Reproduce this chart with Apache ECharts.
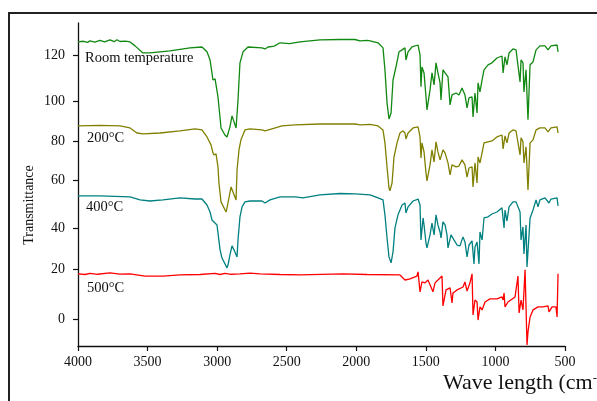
<!DOCTYPE html>
<html>
<head>
<meta charset="utf-8">
<script src="https://cdn.jsdelivr.net/npm/echarts@6/dist/echarts.min.js"></script>
<style>
html,body{margin:0;padding:0;background:#fff;}
#chart{width:597px;height:401px;}
</style>
</head>
<body>
<div id="chart"></div>
<script>
// ---- data: [wavenumber (cm-1), transmittance] ----
const roomTemp = [
[4000,125.9],[3960,126.2],[3930,125.7],[3914,126.4],[3880,125.8],[3842,126.6],[3810,125.9],[3770,126.8],[3740,126.0],[3720,126.9],[3698,126.1],[3660,126.3],[3626,125.9],[3590,124.1],[3533,120.9],[3483,120.9],[3339,121.8],[3195,123.2],[3109,123.6],[3073,121.4],[3051,117.7],[3030,108.6],[3015,109.1],[2994,100.9],[2972,86.8],[2944,83.6],[2929,82.7],[2908,87.3],[2893,92.3],[2864,86.8],[2850,99.5],[2836,116.4],[2814,121.4],[2778,123.6],[2678,123.2],[2656,122.7],[2634,123.6],[2590,124.0],[2548,125.5],[2480,125.1],[2404,125.9],[2261,126.8],[2117,127.0],[2009,127.0],[1973,126.4],[1923,126.6],[1901,126.4],[1844,125.5],[1808,123.2],[1794,113.2],[1779,98.2],[1765,90.9],[1750,93.6],[1736,108.6],[1715,114.5],[1693,121.4],[1671,122.3],[1650,123.2],[1643,117.7],[1628,121.4],[1600,123.6],[1556,124.5],[1542,120],[1535,105.5],[1528,114.5],[1513,111.8],[1499,100.9],[1492,95],[1470,104.1],[1456,111.8],[1441,106.4],[1427,116.4],[1413,111.8],[1398,107.3],[1391,99.5],[1377,113.2],[1362,111.8],[1341,110],[1326,97.3],[1312,101.8],[1283,102.7],[1262,101.8],[1240,105.0],[1219,101.8],[1204,95.9],[1190,100.5],[1168,100.9],[1161,91.8],[1147,102.7],[1132,93.6],[1125,107.3],[1111,103.2],[1096,108.6],[1082,113.2],[1053,115.5],[1025,116.4],[989,118.6],[953,119.5],[945,111.8],[931,119.1],[917,115.5],[902,120.9],[874,122.7],[852,122.3],[838,121.4],[823,107.7],[816,117.7],[802,116.4],[795,103.2],[780,113.2],[766,90.5],[751,115.5],[730,116.8],[708,122.3],[680,124.1],[644,124.1],[622,122.3],[601,124.1],[557,124.5],[550,121.4]
];
const t200 = [
[4000,87.7],[3842,88.0],[3698,87.7],[3626,86.8],[3576,84.5],[3533,84.1],[3411,84.5],[3267,85.5],[3159,86.4],[3109,85.9],[3073,82.7],[3044,79.1],[3030,75.5],[3023,74.5],[3008,75],[2994,69.1],[2987,61.8],[2972,53.2],[2958,52.7],[2936,48.6],[2929,50.5],[2915,55],[2900,60],[2886,57.7],[2864,54.1],[2857,67.7],[2843,76.8],[2829,81.4],[2800,85.9],[2764,86.4],[2678,85.9],[2656,85.5],[2606,86.4],[2534,87.7],[2440,88.2],[2261,88.6],[2009,88.6],[1973,88.2],[1901,88.4],[1844,87.7],[1808,85.9],[1794,80],[1779,69.1],[1765,59.5],[1758,58.2],[1743,61.8],[1729,73.6],[1707,80],[1686,84.5],[1664,85.5],[1650,84.5],[1643,81.8],[1628,84.5],[1592,86.8],[1556,87.3],[1542,82.7],[1535,73.2],[1528,80],[1513,75.9],[1499,66.4],[1492,62.7],[1470,70],[1456,76.8],[1441,71.4],[1427,80.5],[1413,75.9],[1398,72.3],[1391,71.4],[1377,76.8],[1362,75.5],[1341,70.9],[1326,65.5],[1312,70],[1283,69.1],[1262,69.5],[1240,72.3],[1219,70],[1204,64.5],[1190,68.6],[1168,69.1],[1161,60],[1147,70.9],[1132,61.8],[1125,73.6],[1111,70.9],[1096,75.5],[1082,80],[1053,80.5],[1025,80.9],[989,82.7],[953,83.6],[945,77.3],[931,83.2],[917,80],[902,84.5],[874,85.9],[852,85.5],[838,85],[823,74.5],[816,82.3],[802,80.5],[795,70.9],[780,78.2],[766,58.6],[751,80],[730,81.4],[708,85.9],[680,86.8],[644,86.8],[622,85],[601,86.8],[557,87.3],[550,84.5]
];
const t400 = [
[4000,55.9],[3842,55.9],[3626,55.5],[3554,54.1],[3483,53.6],[3389,54.1],[3267,55],[3159,54.5],[3109,54.5],[3073,51.8],[3051,48.6],[3037,45],[3023,44.1],[3001,42.7],[2994,39.1],[2979,31.4],[2965,27.7],[2951,26.8],[2929,23.2],[2922,24.5],[2908,29.1],[2893,33.2],[2879,31.4],[2857,28.2],[2850,35.9],[2836,46.4],[2821,50.9],[2800,53.2],[2764,53.6],[2678,53.6],[2656,52.7],[2620,54.1],[2548,55.5],[2440,55.5],[2383,55],[2261,56.4],[2117,57],[2009,56.8],[1901,56.4],[1844,55],[1808,54.1],[1794,47.3],[1779,36.8],[1765,28.2],[1750,25.5],[1736,30.5],[1722,41.4],[1700,47.3],[1671,51.8],[1650,52.7],[1643,48.2],[1628,50.9],[1592,53.6],[1556,54.5],[1542,51.8],[1535,35.9],[1520,45.9],[1513,42.7],[1499,34.5],[1492,32.3],[1470,38.2],[1456,43.6],[1441,38.2],[1427,47.3],[1413,42.7],[1398,39.5],[1391,36.8],[1377,44.1],[1362,42.7],[1348,38.2],[1341,32.3],[1319,38.2],[1298,35.9],[1276,33.6],[1255,33.2],[1233,37.3],[1219,35],[1204,28.2],[1190,33.6],[1168,35.5],[1154,25],[1147,32.7],[1132,35],[1118,25],[1111,39.5],[1096,35.9],[1082,45.9],[1053,46.4],[1025,47.7],[989,48.6],[953,50.5],[938,41.4],[931,49.5],[917,44.5],[902,50.9],[874,53.2],[852,53.2],[838,52.3],[823,48.6],[816,35.9],[802,41.8],[795,29.5],[780,42.7],[773,23.6],[766,30.5],[751,45.9],[730,49.5],[708,54.1],[694,50.9],[680,54.1],[644,55],[615,52.7],[601,54.5],[557,55],[550,51.4]
];
const t500 = [
[4000,20.5],[3950,20.2],[3914,20.7],[3860,20.3],[3770,20.9],[3700,20.4],[3626,20.5],[3518,19.5],[3389,19.5],[3267,20],[3123,20.2],[3015,20.7],[2980,20.2],[2944,20.7],[2900,20.3],[2836,20.5],[2764,20.8],[2692,20.5],[2548,20.2],[2404,20],[2096,20.5],[1923,20.2],[1686,20],[1650,17.7],[1614,18.2],[1564,19.5],[1556,21.4],[1542,12.3],[1528,16.8],[1506,16.4],[1485,17.7],[1470,15.5],[1449,12.3],[1434,16.4],[1413,17.7],[1384,19.5],[1377,5.9],[1355,13.2],[1326,14.1],[1312,7.3],[1305,11.8],[1276,13.2],[1233,14.5],[1219,16.8],[1204,12.7],[1183,16.4],[1168,20.5],[1161,1.8],[1147,8.6],[1132,7.7],[1125,-0.5],[1111,5.5],[1096,4.1],[1075,7.7],[1039,9.1],[989,9.1],[953,10],[945,8.6],[938,11.8],[931,5.5],[910,7.7],[859,10],[838,19.5],[830,2.7],[816,8.6],[802,4.1],[787,22.3],[780,23.2],[773,-11.8],[766,-5.9],[751,0.9],[730,4.1],[694,5.5],[658,5.5],[622,5.9],[615,3.2],[593,5.5],[565,5.5],[557,0.9],[550,20.5]
];
const seriesNames = ['Room temperature','200°C','400°C','500°C'];
const xTicks = [500,1000,1500,2000,2500,3000,3500,4000];
// y tick positions as drawn in the original figure, and their labels
const yTickValues = [0, 22.7, 41.4, 63.2, 80.9, 99.1, 120];
const yTickLabels = ['0','20','40','60','80','100','120'];

const serif = "'Liberation Serif','Times New Roman',serif";
const chart = echarts.init(document.getElementById('chart'));
const colors = ['#118811','#808000','#008080','#ff0000'];
const datasets = [roomTemp, t200, t400, t500];

chart.setOption({
  animation: false,
  backgroundColor: '#fff',
  grid: {left: 78, right: 32, top: 23, bottom: 55, containLabel: false},
  xAxis: {
    type: 'value', min: 500, max: 4000, interval: 500, inverse: true,
    axisLine: {show: true, onZero: false, lineStyle: {color: '#111', width: 1.3}},
    axisTick: {show: true, length: 5, lineStyle: {color: '#111', width: 1.2}},
    axisLabel: {color: '#111', fontFamily: serif, fontSize: 14, margin: 9,
      formatter: v => xTicks.includes(v) ? String(v) : ''},
    splitLine: {show: false}
  },
  yAxis: {
    type: 'value', min: -12.3, max: 134.5,
    axisLine: {show: true, onZero: false, lineStyle: {color: '#111', width: 1.3}},
    axisTick: {show: true, length: 5, customValues: yTickValues, lineStyle: {color: '#111', width: 1.2}},
    axisLabel: {color: '#111', fontFamily: serif, fontSize: 14, margin: 13,
      customValues: yTickValues,
      formatter: v => {
        let best = 0, bd = 1e9;
        yTickValues.forEach((t, i) => { const d = Math.abs(t - v); if (d < bd) { bd = d; best = i; } });
        return yTickLabels[best];
      }},
    splitLine: {show: false}
  },
  series: datasets.map((d, i) => ({
    name: seriesNames[i], type: 'line', data: d, showSymbol: false, symbol: 'none',
    lineStyle: {color: colors[i], width: 1.3}, itemStyle: {color: colors[i]},
    smooth: false, silent: true
  })),
  graphic: [
    {type: 'polyline', shape: {points: [[9,401],[9,13],[597,13]]}, style: {stroke: '#222', lineWidth: 2, fill: null}},
    {type: 'text', left: 85, top: 51, style: {text: seriesNames[0], font: "14.5px " + serif, fill: '#111'}},
    {type: 'text', left: 87, top: 131, style: {text: seriesNames[1], font: "14.5px " + serif, fill: '#111'}},
    {type: 'text', left: 86, top: 200, style: {text: seriesNames[2], font: "14.5px " + serif, fill: '#111'}},
    {type: 'text', left: 87, top: 281, style: {text: seriesNames[3], font: "14.5px " + serif, fill: '#111'}},
    {type: 'text', x: 29, y: 205, rotation: Math.PI/2,
      style: {text: 'Transmittance', font: "14px " + serif, fill: '#111', align: 'center', verticalAlign: 'middle'}},
    {type: 'text', x: 443, y: 395,
      style: {text: '{m|Wave length (cm}{s|-1}', fill: '#111', verticalAlign: 'bottom',
        rich: {m: {font: "22px " + serif, fill: '#111'}, s: {font: "13px " + serif, fill: '#111', verticalAlign: 'top', padding: [0,0,10,0]}}}}
  ]
});
</script>
</body>
</html>
